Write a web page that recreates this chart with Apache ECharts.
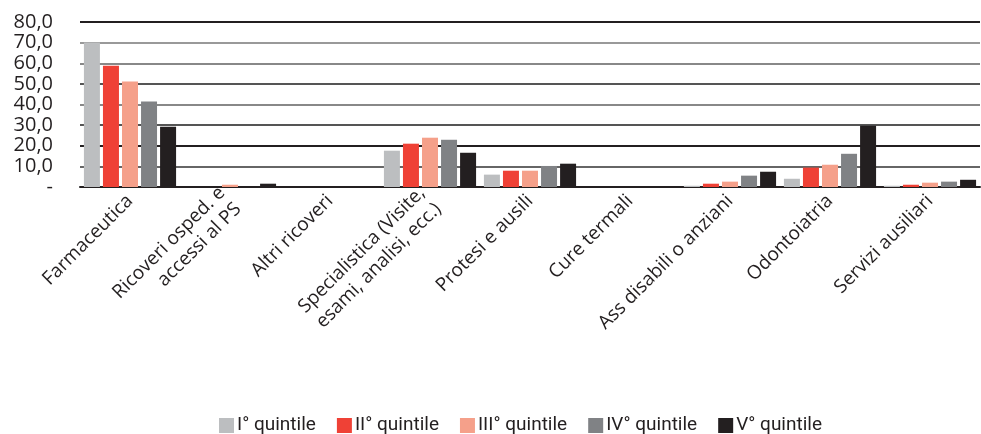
<!DOCTYPE html>
<html><head><meta charset="utf-8">
<script src="https://cdn.jsdelivr.net/npm/echarts@6/dist/echarts.min.js"></script>
<style>html,body{margin:0;padding:0;background:#fff}#c{width:981px;height:434px}</style>
</head><body><div id="c"></div>
<script>
const categories = ['Farmaceutica','Ricoveri osped. e\naccessi al PS','Altri ricoveri','Specialistica (Visite,\nesami, analisi, ecc.)','Protesi e ausili','Cure termali','Ass disabili o anziani','Odontoiatria','Servizi ausiliari'];
const seriesNames = ['I° quintile','II° quintile','III° quintile','IV° quintile','V° quintile'];
const q1 = [70.1, 0, 0, 17.6, 6.0, 0, 0.6, 4.0, 0.6];
const q2 = [58.8, 0, 0, 21.0, 7.9, 0, 1.6, 9.4, 1.1];
const q3 = [51.1, 1.1, 0, 23.9, 7.9, 0, 2.6, 10.8, 2.1];
const q4 = [41.4, 0, 0, 22.9, 10.2, 0, 5.5, 16.1, 2.6];
const q5 = [29.2, 1.6, 0, 16.6, 11.3, 0, 7.4, 29.7, 3.5];
const values = [q1,q2,q3,q4,q5];
const colors = ['#bcbec0','#ef4136','#f5a08a','#808285','#231f20'];
const yTicks = [0,10,20,30,40,50,60,70,80];

const chart = echarts.init(document.getElementById('c'), null, {renderer:'canvas'});
chart.setOption({
  animation:false,
  color: colors,
  grid:{left:80,right:1,top:22,bottom:247,containLabel:false},
  legend:{
    top:411, left:214, itemWidth:15, itemHeight:15, itemGap:21,
    icon:'rect',
    textStyle:{fontFamily:'Roboto',fontSize:19,color:'#231f20',padding:[0,0,0,-2]},
    data: seriesNames
  },
  xAxis:{
    type:'category', data:categories,
    axisLine:{lineStyle:{color:'#231f20',width:2}},
    axisTick:{show:false},
    axisLabel:{rotate:45,interval:0,fontFamily:'Open Sans',fontSize:19,color:'#231f20',margin:11,lineHeight:23,align:'right'}
  },
  yAxis:{
    type:'value', min:0, max:80, interval:10,
    axisLine:{show:false}, axisTick:{show:false},
    axisLabel:{fontFamily:'Open Sans',fontSize:20,lineHeight:20,color:'#231f20',margin:27,
      showMinLabel:true, showMaxLabel:true, hideOverlap:false,
      formatter:v=> v===0 ? '-' : v.toFixed(1).replace('.',',')},
    splitLine:{lineStyle:{color:['#231f20','#666666','#231f20','#555555','#888888','#555555','#888888','#999999','#231f20'],width:2}}
  },
  series: seriesNames.map((n,i)=>({
    name:n, type:'bar', data:values[i], barWidth:16, barGap:'19%',
    itemStyle:{color:colors[i]}
  }))
});
</script></body></html>
